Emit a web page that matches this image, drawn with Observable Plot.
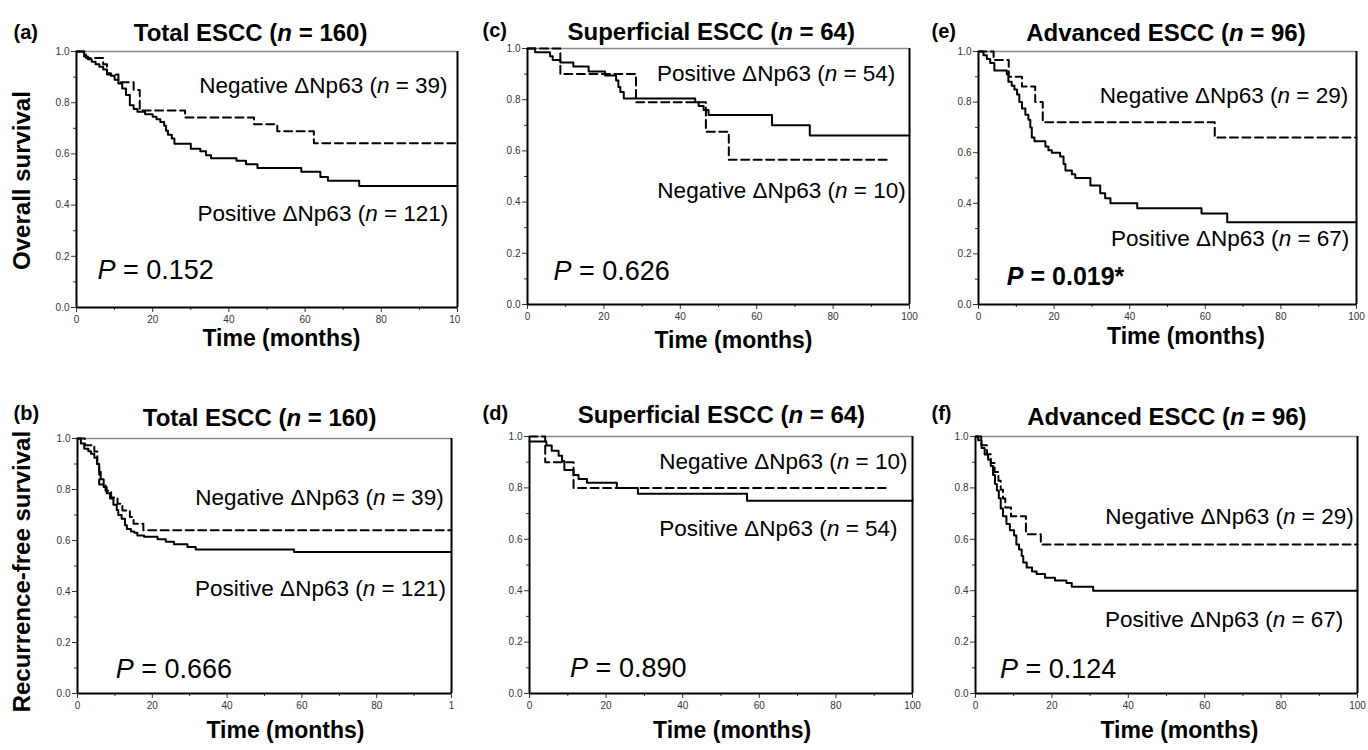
<!DOCTYPE html>
<html><head><meta charset="utf-8">
<script src="https://cdn.jsdelivr.net/npm/d3@7"></script>
<script src="https://cdn.jsdelivr.net/npm/@observablehq/plot@0.6"></script>
<style>
body{margin:0;background:#fff;}
#root{position:relative;width:1368px;height:750px;overflow:hidden;background:#fff;}
.panel{position:absolute;}
</style></head><body><div id="root"></div>
<script>
// ---- Kaplan–Meier step data: [time (months), survival] ----
// (a) Overall survival, total ESCC
const osTotalPos = [[0,1],[2,0.98],[3,0.97],[4,0.96],[5,0.95],[6,0.94],[7,0.93],[8,0.915],[9,0.905],[10,0.89],[11,0.875],[12,0.855],[13,0.83],[14,0.79],[15,0.775],[16,0.765],[18,0.755],[20,0.745],[21,0.735],[22,0.725],[23,0.71],[23.5,0.69],[24,0.675],[25,0.66],[25.7,0.64],[30,0.62],[32.5,0.61],[34,0.595],[35.3,0.583],[42,0.573],[44.5,0.56],[47.5,0.545],[59,0.53],[64,0.51],[66,0.495],[74.2,0.475],[100,0.475]];
const osTotalNeg = [[0,1],[2.5,0.975],[7,0.95],[8,0.91],[11,0.88],[15,0.85],[16.6,0.77],[28.5,0.742],[46.6,0.716],[52.7,0.688],[62.3,0.642],[100,0.642]];
// (b) Recurrence-free survival, total ESCC
const rfsTotalPos = [[0,1],[0.9,0.98],[1.8,0.96],[2.9,0.95],[3.6,0.94],[4.5,0.925],[5.2,0.9],[5.8,0.87],[6.2,0.84],[7,0.81],[7.8,0.785],[8.7,0.765],[9.6,0.74],[10.5,0.72],[10.9,0.7],[11.8,0.685],[12.7,0.66],[13.2,0.645],[14.3,0.635],[15.2,0.63],[16,0.62],[17.8,0.615],[21.4,0.605],[23.6,0.595],[25.8,0.585],[29.4,0.575],[31.6,0.565],[57.9,0.555],[100,0.555]];
const rfsTotalNeg = [[0,1],[2,0.974],[4.5,0.949],[5.3,0.897],[5.8,0.82],[7.5,0.795],[9,0.769],[10.7,0.744],[12,0.718],[14,0.692],[15,0.666],[17.6,0.64],[100,0.64]];
// (c) Overall survival, superficial ESCC
const osSupPos = [[0,1],[2,0.985],[5.9,0.97],[6.6,0.955],[8.6,0.945],[12,0.93],[16,0.91],[20.3,0.895],[23.2,0.875],[23.8,0.85],[24.3,0.83],[25.2,0.805],[43.9,0.79],[44.8,0.775],[46.1,0.76],[47.4,0.74],[64,0.7],[73.9,0.66],[100,0.66]];
const osSupNeg = [[0,1],[8.6,0.9],[28.4,0.79],[46.7,0.675],[52.7,0.565],[95,0.565]];
// (d) Recurrence-free survival, superficial ESCC
const rfsSupPos = [[0,0.981],[4.4,0.965],[5.8,0.945],[7.6,0.925],[8.5,0.905],[9.1,0.87],[11.5,0.85],[12.8,0.835],[15,0.82],[22.8,0.8],[28.3,0.777],[56.8,0.75],[100,0.75]];
const rfsSupNeg = [[0,1],[4.1,0.9],[11.5,0.8],[93,0.8]];
// (e) Overall survival, advanced ESCC
const osAdvPos = [[0,1],[1.3,0.985],[2.2,0.97],[3.1,0.955],[4.2,0.925],[7.5,0.91],[7.9,0.88],[8.8,0.865],[9.5,0.85],[10.2,0.83],[10.8,0.8],[11.5,0.775],[12.4,0.75],[13.2,0.73],[13.7,0.7],[14.1,0.66],[14.8,0.645],[17.7,0.625],[18.5,0.61],[19.4,0.6],[21.6,0.585],[22.5,0.555],[23,0.53],[24.7,0.515],[25.6,0.5],[29.6,0.47],[32.2,0.44],[33.5,0.42],[34.9,0.4],[42,0.38],[59,0.36],[65.8,0.325],[100,0.325]];
const osAdvNeg = [[0,1],[4,0.966],[8,0.9],[11.5,0.862],[15,0.8],[17,0.72],[62.5,0.66],[100,0.66]];
// (f) Recurrence-free survival, advanced ESCC
const rfsAdvPos = [[0,1],[0.7,0.985],[1.6,0.955],[2.4,0.93],[3.3,0.91],[4,0.885],[4.6,0.85],[5.1,0.815],[5.6,0.79],[6.1,0.76],[6.6,0.72],[7.2,0.69],[8.1,0.66],[9,0.635],[10.1,0.615],[10.7,0.58],[11.4,0.56],[12.1,0.535],[12.5,0.51],[13.4,0.49],[14.8,0.475],[16,0.465],[18.2,0.45],[20.8,0.44],[23.8,0.43],[25.2,0.415],[30.8,0.4],[100,0.4]];
const rfsAdvNeg = [[0,1],[1.5,0.966],[3,0.931],[4,0.897],[5,0.862],[6,0.828],[6.6,0.793],[7.2,0.759],[7.8,0.724],[9.3,0.69],[13.2,0.62],[17.1,0.58],[100,0.58]];

// ---- Text ----
const panelLetters = ["(a)","(b)","(c)","(d)","(e)","(f)"];
const panelTitles = ["Total ESCC (_n_ = 160)","Total ESCC (_n_ = 160)","Superficial ESCC (_n_ = 64)","Superficial ESCC (_n_ = 64)","Advanced ESCC (_n_ = 96)","Advanced ESCC (_n_ = 96)"];
const negLabels = ["Negative ΔNp63 (_n_ = 39)","Negative ΔNp63 (_n_ = 39)","Negative ΔNp63 (_n_ = 10)","Negative ΔNp63 (_n_ = 10)","Negative ΔNp63 (_n_ = 29)","Negative ΔNp63 (_n_ = 29)"];
const posLabels = ["Positive ΔNp63 (_n_ = 121)","Positive ΔNp63 (_n_ = 121)","Positive ΔNp63 (_n_ = 54)","Positive ΔNp63 (_n_ = 54)","Positive ΔNp63 (_n_ = 67)","Positive ΔNp63 (_n_ = 67)"];
const pValues = ["_P_ = 0.152","_P_ = 0.666","_P_ = 0.626","_P_ = 0.890","_P_ = 0.019*","_P_ = 0.124"];
const rowLabels = ["Overall survival","Recurrence-free survival"];
const xLabel = "Time (months)";
const yMajor = [0,0.2,0.4,0.6,0.8,1.0];
const yMinor = [0.1,0.3,0.5,0.7,0.9];
const xMajor = [0,20,40,60,80,100];
const xMinor = [10,30,50,70,90];

const FONT = "'Liberation Sans', Arial, Helvetica, sans-serif";

// layout / annotation placement per panel
const panels = [
  {id:"a", pos:osTotalPos, neg:osTotalNeg, left:0, top:0, w:460, h:375, ml:76, mr:3, mt:51, mb:68,
   titleX:45.7, titleDy:-28, letterDx:-63, letterDy:-27, xlabX:53.8, xlabDy:38,
   negAt:[97.4,0.867], posAt:[97.6,0.367], pAt:[5.5,0.145], row:0, rowY:0.496, rowDx:-54, pBold:false},
  {id:"b", pos:rfsTotalPos, neg:rfsTotalNeg, left:0, top:375, w:460, h:375, ml:77, mr:9, mt:63, mb:57,
   titleX:48.7, titleDy:-30, letterDx:-64, letterDy:-33, xlabX:55.6, xlabDy:44,
   negAt:[97.9,0.766], posAt:[98.5,0.409], pAt:[10.2,0.095], row:1, rowY:0.478, rowDx:-55, pBold:false, cut:true},
  {id:"c", pos:osSupPos, neg:osSupNeg, left:460, top:0, w:462, h:375, ml:67, mr:13, mt:48, mb:71,
   titleX:48.1, titleDy:-26, letterDx:-45, letterDy:-26, xlabX:53.9, xlabDy:43,
   negAt:[99,0.445], posAt:[96.3,0.9], pAt:[6.8,0.131], pBold:false},
  {id:"d", pos:rfsSupPos, neg:rfsSupNeg, left:460, top:375, w:462, h:375, ml:69, mr:10, mt:61, mb:57,
   titleX:50.1, titleDy:-31, letterDx:-47, letterDy:-31, xlabX:52.9, xlabDy:44,
   negAt:[98.7,0.9], posAt:[96.1,0.639], pAt:[10.6,0.097], pBold:false},
  {id:"e", pos:osAdvPos, neg:osAdvNeg, left:922, top:0, w:446, h:375, ml:56, mr:12, mt:51, mb:71,
   titleX:49.6, titleDy:-28, letterDx:-47, letterDy:-28, xlabX:54.9, xlabDy:39,
   negAt:[97.8,0.825], posAt:[98.1,0.26], pAt:[7.5,0.109], pBold:true},
  {id:"f", pos:rfsAdvPos, neg:rfsAdvNeg, left:922, top:375, w:446, h:375, ml:53, mr:11, mt:61, mb:57,
   titleX:50.1, titleDy:-29, letterDx:-44, letterDy:-31, xlabX:53.4, xlabDy:44,
   negAt:[99,0.687], posAt:[96.3,0.288], pAt:[6.4,0.093], pBold:false}
];
const order = ["a","b","c","d","e","f"];

function richText(svg){
  svg.querySelectorAll("text").forEach(t => {
    const s = t.textContent;
    if (!s.includes("_")) return;
    while (t.firstChild) t.removeChild(t.firstChild);
    s.split("_").forEach((part,i) => {
      if (!part) return;
      const ts = document.createElementNS("http://www.w3.org/2000/svg","tspan");
      ts.textContent = part;
      if (i % 2 === 1) ts.setAttribute("font-style","italic");
      t.appendChild(ts);
    });
  });
}

const root = document.getElementById("root");
panels.forEach(p => {
  const k = order.indexOf(p.id);
  const X = d => d[0], Y = d => d[1];
  const marks = [
    Plot.ruleY([1], {stroke:"#8a8a8a", strokeWidth:1.5}),
    Plot.ruleX([100], {stroke:"#000", strokeWidth:2}),
    Plot.axisY(yMajor, {tickSize:5, tickPadding:2, tickFormat:d3.format(".1f"), fontSize:10, label:null, color:"#333"}),
    Plot.axisY(yMinor, {tickSize:3, tickFormat:() => "", label:null, color:"#333"}),
    Plot.axisX(xMajor, {tickSize:5, tickPadding:3, tickFormat: d => (p.cut && d === 100) ? "1" : String(d), fontSize:10, label:null, color:"#333"}),
    Plot.axisX(xMinor, {tickSize:3, tickFormat:() => "", label:null, color:"#333"}),
    Plot.line(p.neg, {x:X, y:Y, curve:"step-after", stroke:"#000", strokeWidth:2, strokeDasharray:"8,4.5"}),
    Plot.line(p.pos, {x:X, y:Y, curve:"step-after", stroke:"#000", strokeWidth:2}),
    Plot.ruleX([0], {stroke:"#000", strokeWidth:2}),
    Plot.ruleY([0], {stroke:"#000", strokeWidth:2}),
    // title & letter & x label
    Plot.text([{x:p.titleX, t:panelTitles[k]}], {x:"x", text:"t", frameAnchor:"top", dy:p.titleDy, fontSize:24, fontWeight:"bold", fill:"#000"}),
    Plot.text([{x:0, t:panelLetters[k]}], {x:"x", text:"t", frameAnchor:"top", dx:p.letterDx, dy:p.letterDy, textAnchor:"start", fontSize:20, fontWeight:"bold", fill:"#000"}),
    Plot.text([{x:p.xlabX, t:xLabel}], {x:"x", text:"t", frameAnchor:"bottom", dy:p.xlabDy, fontSize:23, fontWeight:"bold", fill:"#000"}),
    // annotations
    Plot.text([{x:p.negAt[0], y:p.negAt[1], t:negLabels[k]}], {x:"x", y:"y", text:"t", textAnchor:"end", fontSize:22.5, fill:"#000"}),
    Plot.text([{x:p.posAt[0], y:p.posAt[1], t:posLabels[k]}], {x:"x", y:"y", text:"t", textAnchor:"end", fontSize:22.5, fill:"#000"}),
    Plot.text([{x:p.pAt[0], y:p.pAt[1], t:pValues[k]}], {x:"x", y:"y", text:"t", textAnchor:"start", fontSize:p.pBold ? 25 : 27, fontWeight:p.pBold ? "bold" : "normal", fill:"#000"})
  ];
  if (p.row !== undefined) {
    marks.push(Plot.text([{x:0, y:p.rowY, t:rowLabels[p.row]}], {x:"x", y:"y", text:"t", rotate:-90, dx:p.rowDx, fontSize:24, fontWeight:"bold", fill:"#000"}));
  }
  const svg = Plot.plot({
    width:p.w, height:p.h,
    marginLeft:p.ml, marginRight:p.mr, marginTop:p.mt, marginBottom:p.mb,
    x:{domain:[0,100]}, y:{domain:[0,1]},
    style:{fontFamily:FONT, background:"#fff", color:"#000", overflow:"visible"},
    marks
  });
  richText(svg);
  const div = document.createElement("div");
  div.className = "panel";
  div.style.left = p.left + "px";
  div.style.top = p.top + "px";
  div.appendChild(svg);
  root.appendChild(div);
});
</script></body></html>
